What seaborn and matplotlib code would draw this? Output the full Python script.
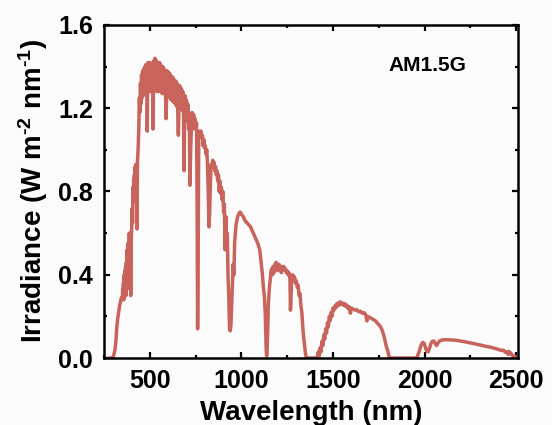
import numpy as np
import pandas as pd
import matplotlib
matplotlib.use("Agg")
import matplotlib.pyplot as plt
import seaborn as sns
from matplotlib.ticker import MultipleLocator

# --- data (wavelength nm, irradiance W m-2 nm-1) ---
uv_wl = [280, 295, 300, 305, 310, 315, 320, 325, 330, 335, 340, 345, 350, 352, 354, 356, 358,
         360, 362, 364, 366, 368, 370, 372, 374, 376, 378, 380, 382, 384, 386, 388, 390, 392,
         394, 396, 398, 401, 404, 406, 408, 410, 412, 414, 416, 418, 420, 422, 424, 426, 430,
         433, 436]
uv_irr = [0.0, 0.0, 0.005, 0.02, 0.04, 0.08, 0.15, 0.19, 0.22, 0.25, 0.27, 0.29, 0.28, 0.33, 0.29, 0.36, 0.28,
          0.40, 0.31, 0.42, 0.33, 0.44, 0.30, 0.46, 0.34, 0.52, 0.36, 0.55, 0.40, 0.50, 0.42, 0.60, 0.45, 0.33,
          0.58, 0.30, 0.55, 0.62, 0.72, 0.65, 0.82, 0.75, 0.86, 0.80, 0.88, 0.82, 0.92, 0.86, 0.93, 0.88, 0.62,
          0.95, 1.00]

vis_wl = [440, 443, 446, 449, 452, 455, 458, 461, 464, 467, 470, 473, 476, 479, 482, 485, 486,
          488, 491, 494, 497, 500, 503, 506, 509, 512, 515, 518, 520, 523, 526, 529, 532, 535,
          538, 541, 544, 547, 550, 553, 556, 559, 562, 565, 568, 571, 574, 577, 580, 583, 586,
          589, 592, 595, 598, 601, 604, 607, 610, 613, 616, 619, 622, 625, 628, 631, 634, 637,
          640, 643, 646, 649, 652, 656, 659, 662, 665, 668, 671, 674, 677, 680, 684, 687, 690,
          693, 696, 700, 704, 708, 712, 716, 719, 723, 727, 731, 735, 739, 743, 747, 751, 755,
          758, 761, 764, 767, 771, 775, 779, 783, 787, 791, 795, 799, 803, 807, 811, 815, 819,
          823, 827, 831, 835, 839, 843, 847, 851, 855, 859, 863, 867, 871, 875, 879, 883, 887,
          891, 895, 899, 903, 907, 911, 915, 919, 923, 927, 931, 935, 939, 943, 947, 951, 955,
          959, 963, 967, 971, 975, 980, 985, 990, 995]
vis_irr = [1.10, 1.25, 1.18, 1.32, 1.22, 1.36, 1.25, 1.38, 1.26, 1.39, 1.27, 1.40, 1.28, 1.41, 1.27, 1.40, 1.09,
           1.30, 1.42, 1.28, 1.41, 1.29, 1.42, 1.28, 1.41, 1.29, 1.40, 1.10, 1.30, 1.43, 1.29, 1.44, 1.30, 1.43,
           1.28, 1.42, 1.29, 1.41, 1.28, 1.42, 1.29, 1.41, 1.28, 1.40, 1.27, 1.40, 1.28, 1.39, 1.27, 1.38, 1.26,
           1.15, 1.27, 1.38, 1.26, 1.37, 1.26, 1.37, 1.25, 1.36, 1.24, 1.35, 1.24, 1.35, 1.23, 1.34, 1.23, 1.33,
           1.22, 1.33, 1.21, 1.32, 1.21, 1.07, 1.22, 1.31, 1.21, 1.30, 1.20, 1.29, 1.19, 1.28, 1.17, 0.90, 1.16,
           1.26, 1.15, 1.24, 1.14, 1.22, 1.10, 1.15, 0.83, 1.00, 1.10, 1.18, 1.10, 1.17, 1.14, 1.15, 1.10, 1.13,
           0.80, 0.14, 0.50, 1.05, 1.09, 1.07, 1.09, 1.06, 1.07, 1.02, 1.05, 1.01, 1.02, 0.98, 1.00, 0.93, 0.80,
           0.63, 0.70, 0.85, 0.93, 0.92, 0.95, 0.93, 0.94, 0.90, 0.92, 0.88, 0.90, 0.85, 0.88, 0.80, 0.85, 0.79,
           0.82, 0.76, 0.80, 0.70, 0.74, 0.52, 0.68, 0.55, 0.60, 0.40, 0.30, 0.15, 0.13, 0.16, 0.25, 0.35, 0.45,
           0.40, 0.55, 0.60, 0.64, 0.66, 0.68, 0.69, 0.70, 0.70]

nir_wl = [1000, 1010, 1020, 1030, 1040, 1050, 1060, 1070, 1080, 1090, 1100, 1105, 1110, 1115, 1120,
          1125, 1130, 1135, 1138, 1141, 1144, 1147, 1150, 1154, 1158, 1162, 1166, 1170, 1174, 1178,
          1182, 1186, 1190, 1194, 1198, 1202, 1206, 1210, 1214, 1218, 1222, 1226, 1230, 1235, 1240,
          1245, 1250, 1255, 1260, 1265, 1268, 1271, 1275, 1280, 1285, 1290, 1295, 1300, 1305, 1310,
          1315, 1320, 1325, 1330, 1335, 1340, 1345, 1350, 1355, 1410]
nir_irr = [0.69, 0.68, 0.66, 0.65, 0.64, 0.63, 0.61, 0.59, 0.57, 0.55, 0.52, 0.48, 0.44, 0.40, 0.34,
           0.30, 0.22, 0.05, 0.01, 0.05, 0.15, 0.25, 0.30, 0.35, 0.38, 0.42, 0.43, 0.40, 0.44, 0.41,
           0.45, 0.42, 0.46, 0.43, 0.45, 0.42, 0.45, 0.43, 0.44, 0.41, 0.44, 0.42, 0.44, 0.43, 0.43,
           0.41, 0.42, 0.40, 0.41, 0.38, 0.23, 0.30, 0.39, 0.40, 0.38, 0.39, 0.36, 0.37, 0.34, 0.35,
           0.30, 0.31, 0.25, 0.22, 0.15, 0.10, 0.06, 0.02, 0.0, 0.0]

swir_wl = [1415, 1420, 1425, 1430, 1435, 1440, 1445, 1450, 1455, 1460, 1465, 1470, 1475, 1480,
           1485, 1490, 1495, 1500, 1505, 1510, 1515, 1520, 1525, 1530, 1535, 1540, 1545, 1550,
           1555, 1560, 1565, 1570, 1575, 1580, 1585, 1590, 1595, 1600, 1610, 1620, 1630, 1640,
           1650, 1660, 1670, 1680, 1685, 1690, 1700, 1710, 1720, 1730, 1740, 1750, 1760, 1770,
           1780, 1790, 1800, 1805, 1812, 1950]
swir_irr = [0.01, 0.03, 0.01, 0.05, 0.03, 0.08, 0.06, 0.11, 0.09, 0.14, 0.12, 0.17, 0.15, 0.20,
            0.18, 0.22, 0.20, 0.24, 0.23, 0.25, 0.24, 0.26, 0.25, 0.265, 0.255, 0.27, 0.26, 0.265,
            0.255, 0.262, 0.25, 0.258, 0.245, 0.25, 0.235, 0.245, 0.215, 0.24, 0.235, 0.23, 0.232, 0.222,
            0.225, 0.215, 0.218, 0.205, 0.178, 0.20, 0.195, 0.19, 0.185, 0.18, 0.17, 0.16, 0.15, 0.13,
            0.10, 0.06, 0.03, 0.01, 0.0, 0.0]

ir_wl = [1960, 1970, 1980, 1990, 1998, 2005, 2012, 2020, 2028, 2035, 2042, 2050, 2058, 2065,
         2072, 2080, 2090, 2100, 2120, 2140, 2160, 2180, 2200, 2220, 2240, 2260, 2280, 2300,
         2320, 2340, 2360, 2380, 2400, 2420, 2430, 2440, 2450, 2455, 2460, 2465, 2470, 2480,
         2490, 2500]
ir_irr = [0.005, 0.03, 0.06, 0.075, 0.07, 0.05, 0.03, 0.03, 0.05, 0.07, 0.08, 0.082, 0.07, 0.06,
          0.07, 0.08, 0.085, 0.087, 0.088, 0.087, 0.086, 0.084, 0.081, 0.078, 0.074, 0.071, 0.067, 0.063,
          0.059, 0.055, 0.052, 0.047, 0.042, 0.036, 0.038, 0.028, 0.030, 0.018, 0.032, 0.020, 0.025, 0.012,
          0.008, 0.004]

df = pd.DataFrame({
    "Wavelength": uv_wl + vis_wl + nir_wl + swir_wl + ir_wl,
    "Irradiance": uv_irr + vis_irr + nir_irr + swir_irr + ir_irr,
})

sns.set_style("ticks")
plt.rcParams["font.family"] = ["Liberation Sans", "DejaVu Sans"]
plt.rcParams["font.weight"] = "bold"
plt.rcParams["text.color"] = "black"
plt.rcParams["axes.labelcolor"] = "black"
plt.rcParams["xtick.color"] = "black"
plt.rcParams["ytick.color"] = "black"
plt.rcParams["mathtext.fontset"] = "custom"
plt.rcParams["mathtext.rm"] = "Liberation Sans:bold"
plt.rcParams["mathtext.bf"] = "Liberation Sans:bold"
plt.rcParams["mathtext.default"] = "bf"

fig = plt.figure(figsize=(5.52, 4.25), dpi=100)
fig.patch.set_facecolor("#fbfbfb")
ax = fig.add_axes([104 / 552, 1 - 358 / 425, 414 / 552, 333 / 425])
ax.set_facecolor("#fbfbfb")

sns.lineplot(data=df, x="Wavelength", y="Irradiance", ax=ax, color="#c8645c",
             linewidth=2.5, sort=False, estimator=None)

ax.set_xlim(250, 2510)
ax.set_ylim(0, 1.6)
ax.xaxis.set_major_locator(MultipleLocator(500))
ax.xaxis.set_minor_locator(MultipleLocator(250))
ax.yaxis.set_major_locator(MultipleLocator(0.4))
ax.yaxis.set_minor_locator(MultipleLocator(0.2))
ax.yaxis.set_major_formatter(matplotlib.ticker.FormatStrFormatter("%.1f"))

for s in ax.spines.values():
    s.set_linewidth(1.8)
    s.set_color("black")
ax.tick_params(which="both", direction="in", top=True, right=True, width=1.6,
               color="black", labelcolor="black")
ax.tick_params(which="major", length=4.5, labelsize=18, pad=8)
ax.tick_params(which="minor", length=2.5)
for lbl in ax.get_xticklabels() + ax.get_yticklabels():
    lbl.set_fontweight("bold")

ax.set_xlabel("Wavelength (nm)", fontsize=20, fontweight="bold", labelpad=5, color="black")
ax.set_ylabel(r"Irradiance (W m$^{\text{-2}}$ nm$^{\text{-1}}$)", fontsize=20,
              fontweight="bold", labelpad=6, color="black")

ax.text(0.686, 0.877, "AM1.5G", transform=ax.transAxes, fontsize=15, fontweight="bold",
        ha="left", va="center", color="black")

fig.savefig("out.png", dpi=100, facecolor=fig.get_facecolor())
